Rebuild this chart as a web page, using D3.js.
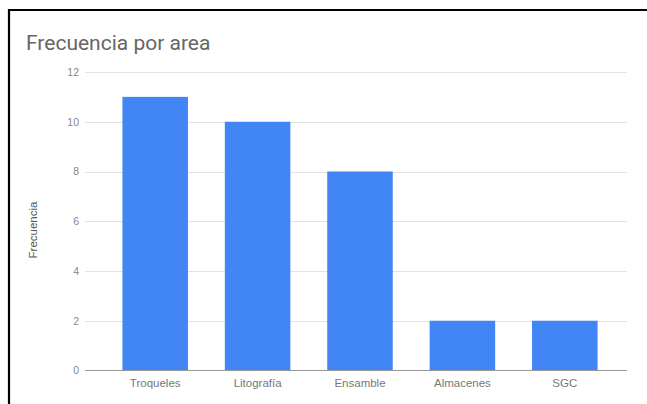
<!DOCTYPE html>
<html><head><meta charset="utf-8">
<script src="https://cdn.jsdelivr.net/npm/d3@7"></script>
<style>html,body{margin:0;padding:0;background:#fff;}svg{display:block;}</style>
</head><body>
<svg id="c" width="647" height="404"></svg>
<script>
const categories = ["Troqueles", "Litografía", "Ensamble", "Almacenes", "SGC"];
const values = [11, 10, 8, 2, 2];
const yTicks = [0, 2, 4, 6, 8, 10, 12];
const title = "Frecuencia por area";
const yTitle = "Frecuencia";

const svg = d3.select("#c");
svg.append("rect").attr("width", 647).attr("height", 404).attr("fill", "#fff");
// frame
svg.append("line").attr("x1", 8).attr("x2", 647).attr("y1", 10).attr("y2", 10).attr("stroke", "#000").attr("stroke-width", 2.2);
svg.append("line").attr("x1", 9).attr("x2", 9).attr("y1", 9).attr("y2", 404).attr("stroke", "#000").attr("stroke-width", 2.2);

const x = d3.scaleBand().domain(categories).range([104, 616]).paddingInner(0.36).paddingOuter(0.18);
const y = d3.scaleLinear().domain([0, 12]).range([370.5, 72]);
const gridX0 = 85, gridX1 = 627;

svg.append("text").attr("x", 26).attr("y", 50).text(title)
  .attr("font-family", "Roboto, Arial, sans-serif").attr("font-size", 21).attr("fill", "#666");

// gridlines
svg.append("g").selectAll("line").data(yTicks.filter(d => d > 0)).join("line")
  .attr("x1", gridX0).attr("x2", gridX1)
  .attr("y1", d => Math.round(y(d)) + 0.5).attr("y2", d => Math.round(y(d)) + 0.5)
  .attr("stroke", "#e3e3e3").attr("stroke-width", 1);

// y tick labels via axis
const yAxis = svg.append("g").attr("transform", `translate(${gridX0},0)`)
  .call(d3.axisLeft(y).tickValues(yTicks).tickSize(0).tickPadding(6));
yAxis.select(".domain").remove();
yAxis.selectAll("text").attr("font-family", "Arial, Liberation Sans, sans-serif").attr("font-size", 10.5).attr("fill", "#888");

// bars
svg.append("g").selectAll("rect").data(values).join("rect")
  .attr("x", (d, i) => x(categories[i]))
  .attr("width", x.bandwidth())
  .attr("y", d => y(d))
  .attr("height", d => y(0) - y(d))
  .attr("fill", "#4285f4");

// baseline
svg.append("line").attr("x1", gridX0).attr("x2", gridX1)
  .attr("y1", y(0)).attr("y2", y(0)).attr("stroke", "#999").attr("stroke-width", 1.2);

// x axis labels
const xAxis = svg.append("g").attr("transform", `translate(0,${y(0)})`)
  .call(d3.axisBottom(x).tickSize(0).tickPadding(8));
xAxis.select(".domain").remove();
xAxis.selectAll("text").attr("font-family", "Arial, Liberation Sans, sans-serif").attr("font-size", 11.5).attr("fill", "#777");

// y title
svg.append("text").attr("transform", "translate(37,230) rotate(-90)").attr("text-anchor", "middle")
  .text(yTitle).attr("font-family", "Arial, Liberation Sans, sans-serif").attr("font-size", 11.5).attr("fill", "#555");
</script>
</body></html>
